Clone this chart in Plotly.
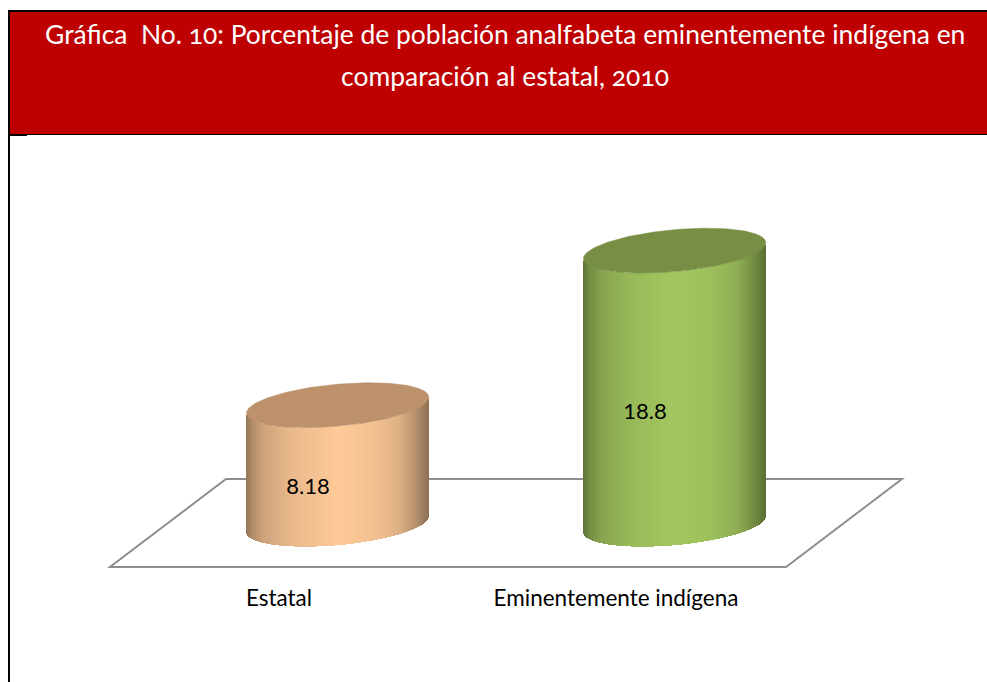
import numpy as np
import plotly.graph_objects as go

# ---------- data ----------
categories = ["Estatal", "Eminentemente indígena"]
values = [8.18, 18.8]
title_lines = ["Gráfica  No. 10: Porcentaje de población analfabeta eminentemente indígena en",
               "comparación al estatal, 2010"]

# ---------- style / projection ----------
W, H = 987, 682
AXIS_BOTTOM_PX = 582          # pixel row of the category axis
PX_PER_UNIT_Y = 14.55
Y0_PX = 524.2                 # pixel row of value 0 at the cylinder axis
PX_PER_CAT = 337.0
CAT0_PX = 279.0               # pixel column of the first category tick
DEPTH_SHIFT_PX = 58.6         # 3-D offset between tick and cylinder axis
R_X_PX = 91.2                 # half width of a cylinder
R_Y_PX = 21.0                 # half height of the ellipse
SHEAR_PX = 8.0                # rise of the right side of the ellipse
body_colors = [(254, 202, 152), (164, 200, 96)]
cap_colors = ["#BC916B", "#788E45"]
label_frac = [0.296, 0.4065]
label_shift_px = -29.5
shade_u = [-1, -0.93, -0.8, -0.5, 0.0, 0.4, 0.7, 0.9, 1]
shade_f = [0.58, 0.70, 0.82, 0.92, 1.0, 0.96, 0.87, 0.68, 0.56]
RED = "#BE0000"
FONT = "Lato"


def px2x(p):
    return (np.asarray(p, float) - CAT0_PX) / PX_PER_CAT


def px2y(p):
    return (Y0_PX - np.asarray(p, float)) / PX_PER_UNIT_Y


fig = go.Figure()
n = 183
for i, v in enumerate(values):
    cx = CAT0_PX + i * PX_PER_CAT + DEPTH_SHIFT_PX
    u = (np.arange(n) + 0.5) / n * 2 - 1
    xs = px2x(cx + u * R_X_PX)
    half = np.sqrt(1 - u ** 2)
    tilt = SHEAR_PX * u / PX_PER_UNIT_Y
    lower = tilt - R_Y_PX * half / PX_PER_UNIT_Y
    f = np.interp(u, shade_u, shade_f)
    cols = ["rgb(%d,%d,%d)" % tuple(int(c * k) for c in body_colors[i]) for k in f]
    fig.add_trace(go.Bar(x=xs, y=[v] * n, base=lower, width=1.1 * 2 * R_X_PX / n / PX_PER_CAT,
                         marker=dict(color=cols, line=dict(width=0)),
                         hoverinfo="skip", showlegend=False))
    t = np.linspace(0, 2 * np.pi, 200)
    ex = px2x(cx + R_X_PX * np.cos(t))
    ey = v + (SHEAR_PX * np.cos(t) + R_Y_PX * np.sin(t)) / PX_PER_UNIT_Y
    fig.add_trace(go.Scatter(x=ex, y=ey, mode="lines", fill="toself", fillcolor=cap_colors[i],
                             line=dict(color=cap_colors[i], width=0.5),
                             hoverinfo="skip", showlegend=False))

fig.add_trace(go.Scatter(
    x=[i + label_shift_px / PX_PER_CAT + DEPTH_SHIFT_PX / PX_PER_CAT for i in range(len(values))],
    y=[v * k for v, k in zip(values, label_frac)],
    mode="text", text=[str(v) for v in values],
    textfont=dict(family=FONT, size=22, color="black"),
    textposition="middle center", hoverinfo="skip", showlegend=False))


def yp(p):
    return 1 - p / H


def xp(p):
    return p / W


floor_px = [(110, 567), (786, 567), (902, 479), (226, 479)]
floor_path = "M " + " L ".join(f"{px2x(a):.4f},{px2y(b):.4f}" for a, b in floor_px) + " Z"
shapes = [
    dict(type="path", path=floor_path, xref="x", yref="y", layer="below",
         line=dict(color="#8E8E8E", width=2), fillcolor="white"),
    dict(type="rect", xref="paper", yref="paper", x0=xp(9.5), x1=1, y0=yp(134), y1=yp(11),
         fillcolor=RED, line=dict(width=0)),
    dict(type="line", xref="paper", yref="paper", x0=xp(8), x1=1, y0=yp(11), y1=yp(11),
         line=dict(color="black", width=2)),
    dict(type="line", xref="paper", yref="paper", x0=xp(9), x1=1, y0=yp(134.5), y1=yp(134.5),
         line=dict(color="black", width=1)),
    dict(type="line", xref="paper", yref="paper", x0=xp(9), x1=xp(27), y0=yp(135.5), y1=yp(135.5),
         line=dict(color="black", width=1)),
    dict(type="line", xref="paper", yref="paper", x0=xp(9), x1=xp(9), y0=0, y1=yp(10),
         line=dict(color="black", width=2)),
]

annotations = [
    dict(text=line, xref="paper", yref="paper", x=xp(505), y=yp(py), xanchor="center",
         yanchor="middle", showarrow=False, font=dict(family=FONT, size=26.45, color="white"))
    for line, py in zip(title_lines, [34, 75.5])
]

fig.update_layout(
    width=W, height=H, autosize=False,
    margin=dict(l=0, r=0, t=0, b=0),
    paper_bgcolor="white", plot_bgcolor="rgba(0,0,0,0)",
    barmode="overlay", bargap=0,
    shapes=shapes, annotations=annotations,
    xaxis=dict(range=[float(px2x(0)), float(px2x(W))], tickmode="array",
               tickvals=list(range(len(categories))), ticktext=categories,
               showgrid=False, zeroline=False, showline=False, ticks="", automargin=False,
               tickfont=dict(family=FONT, size=22.5, color="black"), fixedrange=True),
    yaxis=dict(range=[float(px2y(AXIS_BOTTOM_PX)), float(px2y(0))], domain=[1 - AXIS_BOTTOM_PX / H, 1],
               visible=False, fixedrange=True),
)
fig.write_html("out.html", config=dict(displayModeBar=False),
               post_script="document.body.style.margin='0';"
                           "document.querySelectorAll('.annotation-text').forEach("
                           "function(e){e.style.fontVariantNumeric='oldstyle-nums';});")
